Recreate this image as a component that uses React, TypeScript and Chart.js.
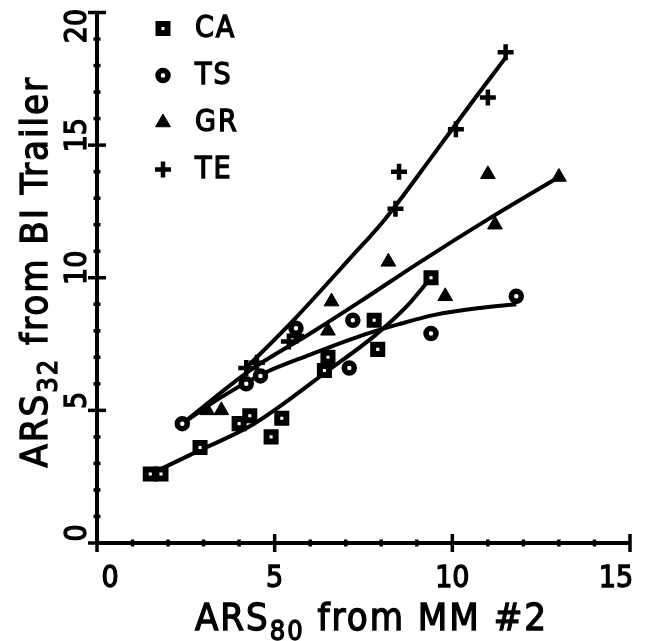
import React, { useEffect, useRef } from "react";
import { Chart, registerables } from "chart.js";

Chart.register(...registerables);

// ---- data ----
const caX = [1.5, 1.8, 2.9, 4.0, 4.3, 4.9, 5.2, 6.4, 6.5, 7.8, 7.9, 9.4];
const caY = [2.6, 2.6, 3.6, 4.5, 4.8, 4.0, 4.7, 6.5, 7.0, 8.4, 7.3, 10.0];

const tsX = [2.4, 4.2, 4.6, 5.6, 7.1, 7.2, 9.4, 11.8];
const tsY = [4.5, 6.0, 6.3, 8.1, 6.6, 8.4, 7.9, 9.3];

const grX = [3.1, 3.5, 6.5, 6.6, 8.2, 9.8, 11.0, 11.2, 13.0];
const grY = [5.0, 5.0, 8.0, 9.1, 10.6, 9.3, 13.9, 12.0, 13.8];

const teX = [4.2, 4.5, 5.4, 5.6, 8.4, 8.5, 10.1, 11.0, 11.5];
const teY = [6.6, 6.8, 7.6, 7.8, 12.6, 14.0, 15.6, 16.8, 18.5];

// fitted curves as drawn in the reference
const caFitX = [1.5, 2.9, 4.3, 5.4, 6.4, 7.8, 8.7, 9.4];
const caFitY = [2.6, 3.5, 4.4, 5.4, 6.4, 7.8, 8.9, 10.0];

const tsFitX = [2.4, 3.5, 4.7, 6.0, 7.4, 8.5, 9.5, 10.7, 11.8];
const tsFitY = [4.5, 5.5, 6.4, 7.1, 7.8, 8.25, 8.6, 8.85, 9.0];

const grFitX = [2.4, 4.3, 6.0, 7.4, 9.1, 11.0, 13.0];
const grFitY = [4.5, 6.5, 7.9, 9.1, 10.6, 12.2, 13.8];

const teFitX = [4.2, 5.6, 7.1, 8.1, 9.5, 10.6, 11.5];
const teFitY = [6.6, 8.5, 10.7, 12.2, 14.7, 16.7, 18.3];

const seriesNames = ["CA", "TS", "GR", "TE"];
const seriesStyles = ["rect", "circle", "triangle", "cross"];

const xMin = 0;
const xMax = 15;
const yMin = 0;
const yMax = 20;
const xTickLabels = ["0", "5", "10", "15"];
const yTickLabels = ["0", "5", "10", "15", "20"];

const xTitle = ["ARS", "80", " from MM #2"];
const yTitle = ["ARS", "32", " from BI Trailer"];

const FONT = '"DejaVu Sans Condensed", "DejaVu Sans", sans-serif';

function pts(xs: number[], ys: number[]) {
  return xs.map((x, i) => ({ x, y: ys[i] }));
}

function heavyText(ctx: CanvasRenderingContext2D, s: string, x: number, y: number) {
  ctx.fillText(s, x, y);
  ctx.lineWidth = 1.3;
  ctx.strokeText(s, x, y);
}

function drawMarker(ctx: CanvasRenderingContext2D, style: string, x: number, y: number) {
  ctx.save();
  ctx.strokeStyle = "#000";
  ctx.fillStyle = "#000";
  if (style === "rect") {
    ctx.lineWidth = 6;
    ctx.fillStyle = "#fff";
    ctx.beginPath();
    ctx.rect(x - 4.5, y - 4.5, 9, 9);
    ctx.fill();
    ctx.stroke();
  } else if (style === "circle") {
    ctx.lineWidth = 5.5;
    ctx.fillStyle = "#fff";
    ctx.beginPath();
    ctx.arc(x, y, 5, 0, Math.PI * 2);
    ctx.fill();
    ctx.stroke();
  } else if (style === "triangle") {
    const r = 8.5;
    ctx.lineWidth = 1;
    ctx.beginPath();
    ctx.moveTo(x, y - r);
    ctx.lineTo(x + r * Math.sin((2 * Math.PI) / 3), y + r / 2);
    ctx.lineTo(x - r * Math.sin((2 * Math.PI) / 3), y + r / 2);
    ctx.closePath();
    ctx.fill();
    ctx.stroke();
  } else {
    const r = 8;
    ctx.lineWidth = 4.5;
    ctx.beginPath();
    ctx.moveTo(x, y - r);
    ctx.lineTo(x, y + r);
    ctx.moveTo(x - r, y);
    ctx.lineTo(x + r, y);
    ctx.stroke();
  }
  ctx.restore();
}

function drawSubTitle(
  ctx: CanvasRenderingContext2D,
  parts: string[],
  cx: number,
  baseline: number,
  mainSize: number,
  subSize: number,
  subDrop: number
) {
  const mainFont = `${mainSize}px ${FONT}`;
  const subFont = `${subSize}px ${FONT}`;
  (ctx as any).letterSpacing = "2px";
  ctx.font = mainFont;
  const w0 = ctx.measureText(parts[0]).width;
  const w2 = ctx.measureText(parts[2]).width;
  ctx.font = subFont;
  const w1 = ctx.measureText(parts[1]).width;
  let x = cx - (w0 + w1 + w2) / 2;
  ctx.textAlign = "left";
  ctx.textBaseline = "alphabetic";
  ctx.font = mainFont;
  heavyText(ctx, parts[0], x, baseline);
  x += w0;
  ctx.font = subFont;
  heavyText(ctx, parts[1], x, baseline + subDrop);
  x += w1;
  ctx.font = mainFont;
  heavyText(ctx, parts[2], x, baseline);
}

const decorPlugin = {
  id: "decor",
  afterDraw(chart: any) {
    const { ctx, chartArea: ca } = chart;
    const xs = chart.scales.x;
    const ys = chart.scales.y;
    ctx.save();
    ctx.strokeStyle = "#000";
    ctx.fillStyle = "#000";
    ctx.lineCap = "butt";

    // x axis ticks (cross the axis)
    xs.ticks.forEach((t: any) => {
      const px = xs.getPixelForValue(t.value);
      const major = t.value % 5 === 0;
      const h = major ? 9 : 3.5;
      ctx.lineWidth = 3.5;
      ctx.beginPath();
      ctx.moveTo(px, ca.bottom - h);
      ctx.lineTo(px, ca.bottom + h);
      ctx.stroke();
    });
    // y axis ticks
    ys.ticks.forEach((t: any) => {
      const py = ys.getPixelForValue(t.value);
      const major = t.value % 5 === 0;
      const h = major ? 9 : 3.5;
      ctx.lineWidth = 3.5;
      ctx.beginPath();
      ctx.moveTo(ca.left - h, py);
      ctx.lineTo(ca.left + h, py);
      ctx.stroke();
    });

    // x tick labels
    ctx.font = `30px ${FONT}`;
    ctx.textAlign = "center";
    ctx.textBaseline = "alphabetic";
    xTickLabels.forEach((lab, i) => {
      const v = Number(lab);
      let px = xs.getPixelForValue(v);
      if (i === 0) px += 13;
      if (i === xTickLabels.length - 1) px -= 14;
      heavyText(ctx, lab, px, 587);
    });

    // y tick labels (rotated)
    const capH = 0.73 * 30;
    yTickLabels.forEach((lab) => {
      const v = Number(lab);
      let py = ys.getPixelForValue(v) - 10;
      if (py < 26) py = 26;
      ctx.save();
      ctx.translate(75, py);
      ctx.rotate(-Math.PI / 2);
      ctx.textAlign = "center";
      ctx.textBaseline = "alphabetic";
      heavyText(ctx, lab, 0, capH / 2);
      ctx.restore();
    });

    // axis titles
    ctx.save();
    drawSubTitle(ctx, xTitle, (ca.left + ca.right) / 2 + 8, 630, 38, 27, 10);
    ctx.restore();

    ctx.save();
    ctx.translate(47, (ca.top + ca.bottom) / 2 - 6);
    ctx.rotate(-Math.PI / 2);
    drawSubTitle(ctx, yTitle, 0, 0, 38, 27, 10);
    ctx.restore();

    // legend inside the plot
    ctx.save();
    ctx.font = `30px ${FONT}`;
    (ctx as any).letterSpacing = "2px";
    ctx.textAlign = "left";
    ctx.textBaseline = "middle";
    seriesNames.forEach((name, i) => {
      const ry = ca.top + 16 + i * 47;
      drawMarker(ctx, seriesStyles[i], ca.left + 66, ry);
      heavyText(ctx, name, ca.left + 98, ry + 1);
    });
    ctx.restore();

    ctx.restore();
  },
};

function App() {
  const canvasRef = useRef<HTMLCanvasElement | null>(null);

  useEffect(() => {
    const canvas = canvasRef.current;
    if (!canvas) return;
    const lineDs = (label: string, xs: number[], ys: number[]) => ({
      label,
      data: pts(xs, ys),
      showLine: true,
      borderColor: "#000",
      borderWidth: 4,
      pointRadius: 0,
      cubicInterpolationMode: "monotone",
      fill: false,
      order: 2,
      clip: false,
    });
    const chart = new Chart(canvas, {
      type: "scatter",
      data: {
        datasets: [
          lineDs("CA fit", caFitX, caFitY),
          lineDs("TS fit", tsFitX, tsFitY),
          lineDs("GR fit", grFitX, grFitY),
          lineDs("TE fit", teFitX, teFitY),
          {
            label: seriesNames[0],
            data: pts(caX, caY),
            pointStyle: "rect",
            pointRadius: 6.4,
            pointBackgroundColor: "#fff",
            pointBorderColor: "#000",
            pointBorderWidth: 6,
            order: 1,
            clip: false,
          },
          {
            label: seriesNames[1],
            data: pts(tsX, tsY),
            pointStyle: "circle",
            pointRadius: 5,
            pointBackgroundColor: "#fff",
            pointBorderColor: "#000",
            pointBorderWidth: 5.5,
            order: 1,
            clip: false,
          },
          {
            label: seriesNames[2],
            data: pts(grX, grY),
            pointStyle: "triangle",
            pointRadius: 8.5,
            pointBackgroundColor: "#000",
            pointBorderColor: "#000",
            pointBorderWidth: 1,
            order: 1,
            clip: false,
          },
          {
            label: seriesNames[3],
            data: pts(teX, teY),
            pointStyle: "cross",
            pointRadius: 8,
            pointBackgroundColor: "#000",
            pointBorderColor: "#000",
            pointBorderWidth: 4.5,
            order: 1,
            clip: false,
          },
        ] as any,
      },
      options: {
        animation: false,
        responsive: false,
        devicePixelRatio: 1,
        events: [],
        layout: { padding: { top: 12.5, right: 15, left: 0, bottom: 0 } },
        plugins: {
          legend: { display: false },
          tooltip: { enabled: false },
          title: { display: false },
        },
        scales: {
          x: {
            type: "linear",
            min: xMin,
            max: xMax,
            ticks: { display: false, stepSize: 1 },
            grid: { display: false },
            border: { display: true, color: "#000", width: 4 },
            afterFit: (s: any) => {
              s.height = 98;
            },
          },
          y: {
            type: "linear",
            min: yMin,
            max: yMax,
            ticks: { display: false, stepSize: 1 },
            grid: { display: false },
            border: { display: true, color: "#000", width: 4 },
            afterFit: (s: any) => {
              s.width = 97;
            },
          },
        },
      } as any,
      plugins: [decorPlugin],
    });
    return () => chart.destroy();
  }, []);

  return (
    <div
      style={{
        position: "fixed",
        left: 0,
        top: 0,
        width: 645,
        height: 641,
        background: "#fff",
      }}
    >
      <canvas ref={canvasRef} width={645} height={641} style={{ display: "block" }} />
    </div>
  );
}

export default App;
